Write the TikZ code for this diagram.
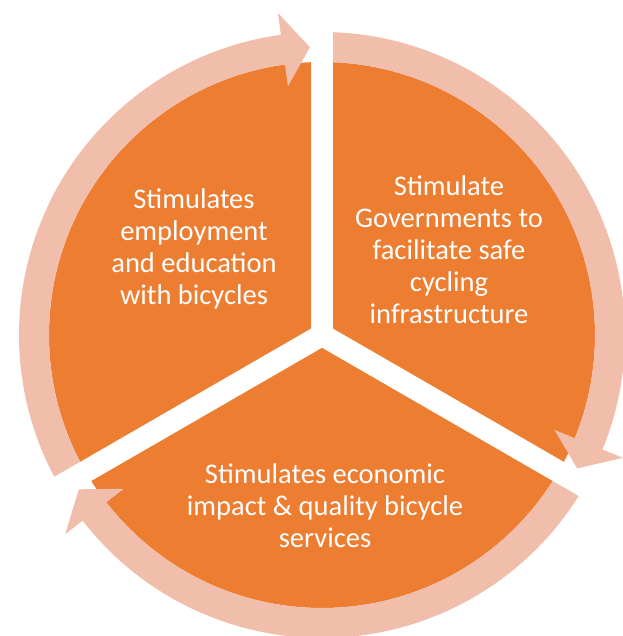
\documentclass[tikz,border=0pt]{standalone}
\usepackage{fontspec}
\setmainfont{Carlito}
\usetikzlibrary{calc}

\begin{document}
\begin{tikzpicture}[x=1pt, y=1pt]

    % Define colors
    \definecolor{seg_orange}{RGB}{237, 125, 49}
    \definecolor{ring_pink}{RGB}{241, 190, 172}

    \tikzset{
        seglabel/.style={text=white, align=center, font=\fontsize{28.5}{32}\selectfont},
        gapline/.style={white, line width=22pt},
    }

    \useasboundingbox (0,0) rectangle (622,636);
    \coordinate (C) at (322,301);

    \begin{scope}[shift={(C)}]
        % Pie
        \fill[seg_orange] (0,0) circle (273);

        % Ring arrows (clockwise, tail/tip angles)
        \foreach \tail/\tip in {210/92.4, 90/-27.6, -30/-147.6} {
            \pgfmathsetmacro{\headend}{\tip+5.4}
            \fill[ring_pink] (\tail:303) arc[start angle=\tail, end angle=\headend, radius=303]
                -- (\headend:325) -- (\tip:288) -- (\headend:251)
                -- (\headend:273) arc[start angle=\headend, end angle=\tail, radius=273] -- cycle;
        }

        % Gaps between segments
        \foreach \a in {90, 210, 330}
            \draw[gapline] (0,0) -- (\a:340);
    \end{scope}

    % Labels
    \node[seglabel] (employ) at (194,387) {Stimulates\\employment\\and education\\with bicycles};
    \node[seglabel] (govern) at (449,386) {Stimulate\\Governments to\\facilitate safe\\cycling\\infrastructure};
    \node[seglabel] (econ) at (325,130) {Stimulates economic\\impact \& quality bicycle\\services};

\end{tikzpicture}
\end{document}
